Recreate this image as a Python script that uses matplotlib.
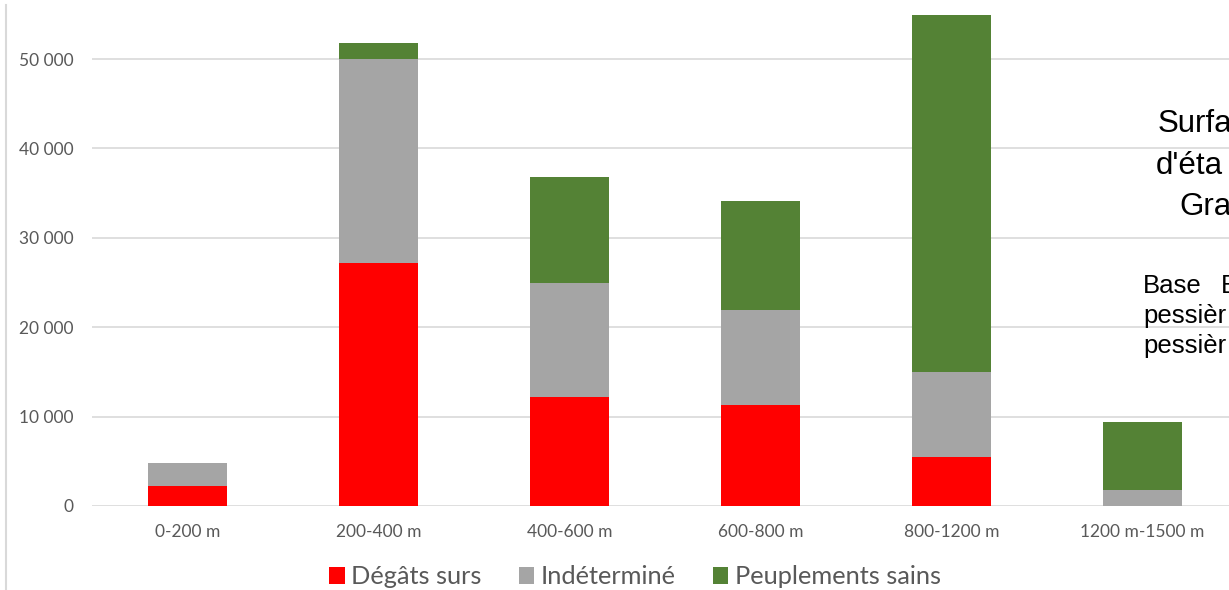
import matplotlib
matplotlib.use("Agg")
import matplotlib.pyplot as plt
from matplotlib.patches import Patch
from matplotlib.lines import Line2D
from matplotlib.ticker import FuncFormatter

categories = ["0-200 m", "200-400 m", "400-600 m", "600-800 m", "800-1200 m", "1200 m-1500 m"]
degats_surs = [2200, 27200, 12200, 11300, 5500, 0]
indetermine = [2600, 22800, 12800, 10600, 9500, 1800]
peuplements_sains = [0, 1800, 11800, 12200, 39900, 7600]
series_names = ["Dégâts surs", "Indéterminé", "Peuplements sains"]
series_colors = ["#ff0000", "#a5a5a5", "#548235"]
yticks = [0, 10000, 20000, 30000, 40000, 50000]
side_title = ["Surfa", "d'éta", "Gra"]
side_text = ["Base", "pessièr", "pessièr"]
side_text_extra = "E"

plt.rcParams['font.family'] = ['Lato', 'DejaVu Sans']

fig = plt.figure(figsize=(12.29, 5.90), dpi=100)
ax = fig.add_axes([92/1229, 84/590, (1238-92)/1229, 500.6/590])

x = list(range(len(categories)))
w = 0.41
bottom = [0]*len(categories)
for vals, name, col in zip([degats_surs, indetermine, peuplements_sains], series_names, series_colors):
    ax.bar(x, vals, w, bottom=bottom, color=col, label=name, zorder=3)
    bottom = [b+v for b, v in zip(bottom, vals)]

ax.set_xlim(-0.5, len(categories)-0.5)
ax.set_ylim(0, 56000)
ax.set_yticks(yticks)
ax.yaxis.set_major_formatter(FuncFormatter(lambda v, p: f"{int(v):,}".replace(",", " ")))
ax.set_xticks(x)
ax.set_xticklabels(categories)
ax.grid(axis='y', color='#d9d9d9', linewidth=1.2, zorder=0)
for s in ax.spines.values():
    s.set_visible(False)
ax.tick_params(axis='both', length=0, colors='#595959', labelsize=12.5)
ax.tick_params(axis='y', pad=13.5)
ax.tick_params(axis='x', pad=13)

handles = [Patch(facecolor=c, edgecolor='none') for c in series_colors]
fig.legend(handles, series_names, loc='center', bbox_to_anchor=(635/1229, 1-577/590),
           ncol=3, frameon=False, fontsize=18.3, handlelength=0.62, handleheight=0.62,
           handletextpad=0.25, columnspacing=1.45, labelcolor='#595959', borderpad=0)

# left border line
fig.add_artist(Line2D([6/1229, 6/1229], [0, 1-5/590], color='#d9d9d9', linewidth=1.5))

# overlapping text block at right edge (clipped by the figure edge)
for txt, (xx, yy) in zip(side_title, [(1158, 132), (1156, 174), (1179, 215)]):
    fig.text(xx/1229, 1-yy/590, txt, fontsize=22.5, family=['Liberation Sans'], color='#000000',
             ha='left', va='baseline')
for txt, yy in zip(side_text, [293, 323, 353]):
    fig.text(1143/1229, 1-yy/590, txt, fontsize=18.5, family=['Liberation Sans'], color='#000000',
             ha='left', va='baseline')
fig.text(1221/1229, 1-293/590, side_text_extra, fontsize=18.5, family=['Liberation Sans'],
         color='#000000', ha='left', va='baseline')

fig.savefig("out.png", dpi=100)
